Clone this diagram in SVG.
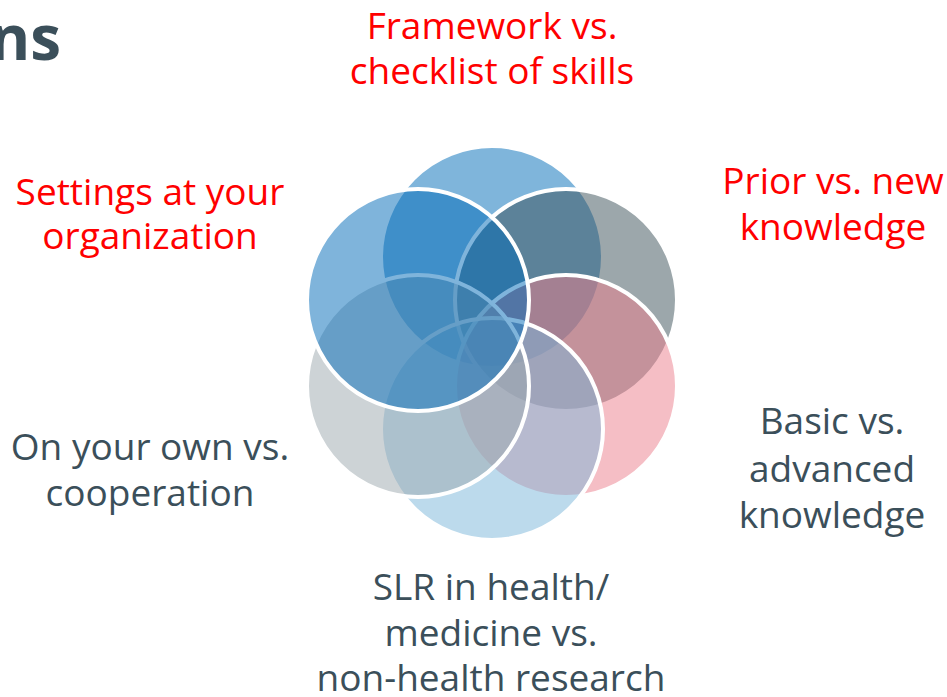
<svg xmlns="http://www.w3.org/2000/svg" width="947" height="697" viewBox="0 0 947 697">
<style>
.c{fill-opacity:0.5;stroke:#ffffff;stroke-width:4}
.t{font-family:"Open Sans","Noto Sans","Liberation Sans",sans-serif;font-size:37px;text-anchor:middle}
.red{fill:#ff0000}
.dk{fill:#3b4f5a}
</style>
<rect width="947" height="697" fill="#ffffff"/>
<text x="61" y="60" font-family="Open Sans, Noto Sans, sans-serif" font-weight="bold" font-size="62" text-anchor="end" fill="#3b4f5a">ns</text>
<g id="circles">
<g id="c1"><circle class="c" cx="492" cy="257" r="111" fill="#006bb7"/></g>
<g id="c2"><circle class="c" cx="566" cy="300" r="111" fill="#394f57"/></g>
<g id="c3"><circle class="c" cx="566" cy="386" r="111" fill="#eb7d8b"/></g>
<g id="c4"><circle class="c" cx="492" cy="429" r="111" fill="#79b5d9"/></g>
<g id="c5"><circle class="c" cx="418" cy="386" r="111" fill="#9ba7ad"/></g>
<g id="c6"><circle class="c" cx="418" cy="300" r="111" fill="#0069b7"/></g>
</g>
<g id="labels">
<text class="t red" x="492" y="39">Framework vs.<tspan x="492" y="84">checklist of skills</tspan></text>
<text class="t red" x="150" y="205">Settings at your<tspan x="150" y="249">organization</tspan></text>
<text class="t red" x="833" y="194">Prior vs. new<tspan x="833" y="240">knowledge</tspan></text>
<text class="t dk" x="832" y="434">Basic vs.<tspan x="832" y="482">advanced</tspan><tspan x="832" y="528">knowledge</tspan></text>
<text class="t dk" x="150" y="460">On your own vs.<tspan x="150" y="506">cooperation</tspan></text>
<text class="t dk" x="491" y="600">SLR in health/<tspan x="491" y="646">medicine vs.</tspan><tspan x="491" y="691">non-health research</tspan></text>
</g>
</svg>
